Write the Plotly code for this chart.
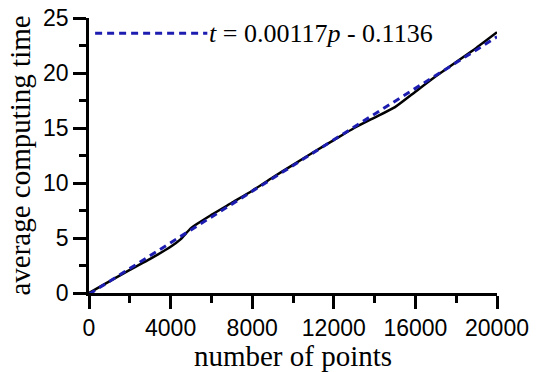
import plotly.graph_objects as go

# measured computing time (black line)
points = [0, 1000, 2000, 3000, 4000, 4500, 5000, 6000, 7000, 8000, 9000, 10000,
          11000, 12000, 13000, 14000, 15000, 16000, 17000, 18000, 19000, 20000]
times = [0, 1.05, 2.1, 3.1, 4.2, 4.9, 5.9, 7.1, 8.2, 9.3, 10.5, 11.65,
         12.8, 13.9, 15.0, 15.95, 16.9, 18.3, 19.7, 21.0, 22.3, 23.7]

# linear fit t = 0.00117p - 0.1136 (blue dashed line)
fit_points = [0, 20000]
fit_times = [-0.1136, 23.2864]

x_ticks = [0, 4000, 8000, 12000, 16000, 20000]
x_tick_labels = ["0", "4000", "8000", "12000", "16000", "20000"]
y_ticks = [0, 5, 10, 15, 20, 25]
y_tick_labels = ["0", "5", "10", "15", "20", "25"]

BLUE = "#1c1cb0"
DASH = "7px,5px"

fig = go.Figure()
fig.add_trace(go.Scatter(x=points, y=times, mode="lines",
                         line=dict(color="black", width=2.5, shape="spline", smoothing=0.5),
                         showlegend=False))
fig.add_trace(go.Scatter(x=fit_points, y=fit_times, mode="lines",
                         line=dict(color=BLUE, width=3, dash=DASH),
                         showlegend=False))

axis_common = dict(showline=True, linecolor="black", linewidth=2.5, ticks="outside",
                   ticklen=13, tickwidth=2.5, tickcolor="black", showgrid=False,
                   zeroline=False, automargin=False,
                   tickfont=dict(family="Liberation Sans", size=23, color="black"))

fig.update_xaxes(range=[0, 20000], tickvals=x_ticks, ticktext=x_tick_labels,
                 minor=dict(dtick=2000, ticklen=7, tickwidth=2.5, tickcolor="black", ticks="outside"),
                 title=dict(text="number of points",
                            font=dict(family="Liberation Serif", size=29, color="black"),
                            standoff=2),
                 **axis_common)
fig.update_yaxes(range=[0, 25], tickvals=y_ticks, ticktext=y_tick_labels,
                 minor=dict(dtick=2.5, ticklen=7, tickwidth=2.5, tickcolor="black", ticks="outside"),
                 title=dict(text="average computing time",
                            font=dict(family="Liberation Serif", size=29, color="black"),
                            standoff=4),
                 **axis_common)

# legend key and equation
fig.add_shape(type="line", xref="paper", yref="paper", x0=0.015, x1=0.29, y0=0.945, y1=0.945,
              line=dict(color=BLUE, width=3, dash=DASH))
fig.add_annotation(xref="paper", yref="paper", x=0.288, y=0.945, xanchor="left", yanchor="middle",
                   text="<i>t</i> = 0.00117<i>p</i> - 0.1136", showarrow=False,
                   font=dict(family="Liberation Serif", size=26, color="black"))

fig.update_layout(width=539, height=372, margin=dict(l=89, r=42, t=18, b=79),
                  plot_bgcolor="white", paper_bgcolor="white")

fig.write_html("out.html")
